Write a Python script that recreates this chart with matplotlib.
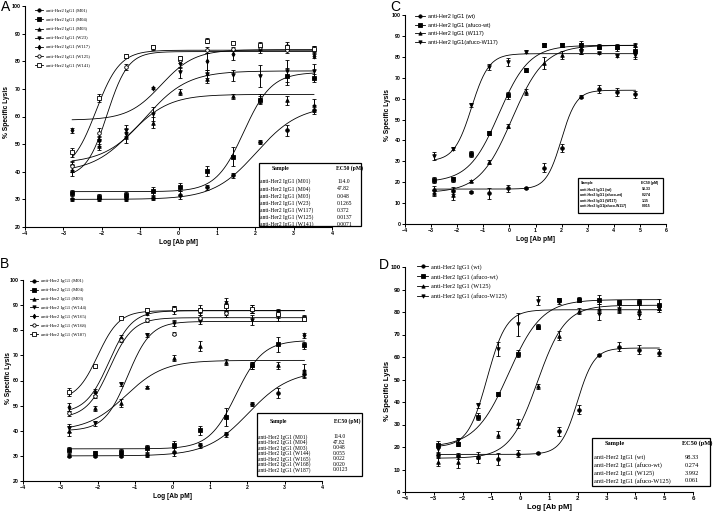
import numpy as np
import matplotlib
matplotlib.use('Agg')
import matplotlib.pyplot as plt
from matplotlib.lines import Line2D
from matplotlib.patches import Rectangle

plt.rcParams['font.family'] = ['Liberation Sans', 'DejaVu Sans']

# ---------------- DATA ----------------
# Panel A
xA = [-2.77, -2.07, -1.37, -0.67, 0.03, 0.73, 1.43, 2.13, 2.83, 3.53]
namesA = ['anti-Her2 IgG1 (M01)', 'anti-Her2 IgG1 (M04)', 'anti-Her2 IgG1 (M03)',
          'anti-Her2 IgG1 (W23)', 'anti-Her2 IgG1 (W117)', 'anti-Her2 IgG1 (W125)',
          'anti-Her2 IgG1 (W141)']
A_M01 = [30.0, 30.0, 30.0, 30.5, 31.5, 34.3, 38.7, 50.7, 55.0, 62.5]
A_M04 = [32.3, 31.0, 31.7, 33.0, 34.5, 40.2, 45.5, 66.0, 74.5, 74.0]
A_M03 = [40.5, 49.5, 52.5, 57.8, 68.8, 73.5, 67.3, 66.5, 65.8, 64.0]
A_W23 = [42.0, 51.0, 55.0, 61.0, 76.0, 75.5, 75.0, 74.5, 76.5, 76.5]
A_W117 = [55.0, 51.5, 54.0, 70.3, 79.5, 80.0, 82.5, 84.5, 85.5, 82.0]
A_W125 = [42.0, 54.0, 78.0, 85.0, 80.5, 84.0, 84.5, 85.0, 84.0, 84.0]
A_W141 = [47.0, 66.7, 82.0, 85.3, 81.0, 87.5, 86.7, 86.0, 85.0, 84.5]
errA_M01 = [0.6, 0.6, 0.6, 0.8, 1.5, 1.0, 1.0, 0.8, 2.0, 1.5]
errA_M04 = [1.2, 0.8, 1.0, 1.5, 1.5, 1.8, 3.5, 1.5, 3.0, 1.5]
errA_M03 = [2.0, 1.5, 2.0, 2.0, 1.0, 1.5, 1.0, 1.5, 1.5, 2.5]
errA_W23 = [2.0, 1.5, 2.0, 2.5, 2.0, 1.5, 2.0, 4.0, 4.0, 2.5]
errA_W117 = [0.8, 1.5, 1.5, 0.3, 2.0, 3.0, 2.0, 1.5, 1.5, 1.0]
errA_W125 = [1.5, 2.0, 1.0, 0.8, 1.0, 1.0, 0.8, 1.0, 1.0, 1.5]
errA_W141 = [1.5, 1.5, 0.8, 0.6, 0.8, 0.8, 0.5, 0.8, 0.8, 1.0]
# fitted curve parameters: bottom, top, logEC50, hill
fitA_M01 = [30.0, 64.0, 2.03, 0.78]
fitA_M04 = [32.8, 76.0, 1.70, 1.2]
fitA_M03 = [40.0, 68.0, -1.25, 0.85]
fitA_W23 = [43.0, 76.5, -0.85, 0.8]
fitA_W117 = [58.7, 84.2, -0.45, 1.0]
fitA_W125 = [38.0, 83.5, -1.86, 1.6]
fitA_W141 = [40.0, 84.0, -2.15, 1.4]
ec50A = ['114.0', '47.82', '0.048', '0.1265', '0.372', '0.0137', '0.0071']

# Panel B
xB = xA
namesB = ['anti-Her2 IgG1 (M01)', 'anti-Her2 IgG1 (M04)', 'anti-Her2 IgG1 (M03)',
          'anti-Her2 IgG1 (W144)', 'anti-Her2 IgG1 (W165)', 'anti-Her2 IgG1 (W168)',
          'anti-Her2 IgG1 (W187)']
B_M01 = A_M01
B_M04 = A_M04
B_M03 = [40.0, 49.0, 51.0, 57.5, 68.8, 73.8, 67.3, 66.0, 66.0, 64.0]
B_W144 = [41.0, 43.0, 58.5, 78.0, 83.0, 83.5, 86.5, 84.0, 85.5, 84.5]
B_W165 = [49.5, 55.5, 77.0, 87.0, 88.0, 88.0, 91.0, 88.5, 87.0, 78.0]
B_W168 = [47.0, 54.0, 76.0, 84.0, 78.7, 85.0, 87.0, 88.0, 86.5, 85.0]
B_W187 = [55.5, 65.6, 85.0, 88.0, 88.5, 88.0, 89.5, 88.5, 86.5, 84.5]
errB_M03 = [2.0, 1.0, 1.5, 0.3, 1.2, 2.0, 1.2, 1.5, 1.5, 2.5]
errB_W144 = [1.5, 1.0, 0.8, 0.8, 1.2, 1.0, 1.2, 2.0, 2.0, 1.0]
errB_W165 = [1.5, 1.2, 1.0, 0.8, 1.5, 2.0, 1.8, 1.5, 1.5, 1.0]
errB_W168 = [1.0, 1.0, 0.8, 0.8, 0.5, 1.0, 1.0, 1.0, 1.0, 1.0]
errB_W187 = [1.5, 0.6, 0.6, 0.8, 1.0, 1.0, 2.0, 1.5, 1.5, 1.0]
fitB_W144 = [40.0, 83.5, -1.2, 1.4]
fitB_W165 = [47.0, 87.8, -1.7, 1.4]
fitB_W168 = [45.0, 85.0, -1.68, 1.4]
fitB_W187 = [52.0, 87.8, -2.0, 1.5]
ec50B = ['114.0', '47.82', '0.048', '0.055', '0.022', '0.020', '0.0123']

# Panel C
xC = [-2.87, -2.17, -1.47, -0.77, -0.07, 0.63, 1.33, 2.03, 2.73, 3.43, 4.13, 4.83]
namesC = ['anti-Her2 IgG1 (wt)', 'anti-Her2 IgG1 (afuco-wt)', 'anti-Her2 IgG1 (W117)',
          'anti-Her2 IgG1(afuco-W117)']
C_wt = [16.5, 16.0, 15.5, 14.7, 17.0, 17.3, 27.0, 36.5, 61.0, 64.5, 63.3, 62.0]
C_afwt = [21.0, 21.3, 33.5, 43.5, 61.5, 73.5, 85.5, 85.5, 85.5, 84.5, 84.5, 83.0]
C_W117 = [15.0, 14.0, 20.5, 29.5, 47.0, 63.0, 77.0, 81.0, 84.0, 85.0, 84.5, 85.5]
C_afW117 = [32.5, 36.0, 57.0, 75.0, 77.5, 82.5, 85.5, 85.5, 82.5, 82.0, 80.5, 81.0]
errC_wt = [1.5, 1.5, 0.5, 2.5, 1.5, 0.5, 2.0, 2.0, 0.5, 2.0, 2.0, 1.5]
errC_afwt = [1.5, 1.0, 1.5, 1.0, 1.5, 1.0, 0.8, 1.0, 2.0, 1.0, 1.5, 3.0]
errC_W117 = [1.5, 2.5, 0.5, 1.0, 1.0, 1.5, 3.0, 2.0, 2.5, 1.0, 1.0, 1.0]
errC_afW117 = [2.0, 0.8, 1.0, 1.5, 2.0, 0.8, 1.0, 1.0, 1.0, 0.5, 0.8, 2.0]
fitC_wt = [16.7, 64.0, 1.99, 1.5]
fitC_afwt = [20.0, 85.5, -0.4, 0.75]
fitC_W117 = [15.0, 85.5, 0.1, 0.7]
fitC_afW117 = [30.0, 81.5, -1.45, 1.3]
ec50C = ['98.33', '0.274', '1.15', '0.015']

# Panel D
xD = xC
namesD = ['anti-Her2 IgG1 (wt)', 'anti-Her2 IgG1 (afuco-wt)', 'anti-Her2 IgG1 (W125)',
          'anti-Her2 IgG1 (afuco-W125)']
D_W125 = [13.5, 13.5, 15.5, 25.5, 30.5, 47.0, 69.5, 80.5, 81.5, 81.5, 81.0, 82.0]
D_afW125 = [19.0, 23.0, 38.5, 63.5, 74.5, 85.0, 84.5, 85.5, 79.0, 81.5, 78.5, 82.0]
errD_W125 = [2.0, 3.0, 2.5, 1.5, 2.0, 1.0, 2.0, 1.5, 2.0, 2.0, 2.0, 1.0]
errD_afW125 = [1.5, 1.0, 1.0, 3.0, 5.0, 2.0, 1.0, 0.5, 2.5, 1.5, 1.5, 1.0]
fitD_W125 = [15.0, 83.0, 0.6, 0.9]
fitD_afW125 = [20.0, 81.0, -1.15, 1.3]
ec50D = ['98.33', '0.274', '3.992', '0.061']

# ---------------- DRAWING ----------------
W, H = 713, 514
fig = plt.figure(figsize=(W / 100, H / 100), dpi=100)


def logistic(x, bottom, top, logec50, hill):
    return bottom + (top - bottom) / (1 + 10 ** (hill * (logec50 - x)))


def px_axes(x0, y0, x1, y1):
    return fig.add_axes([x0 / W, 1 - y1 / H, (x1 - x0) / W, (y1 - y0) / H])


def fx(x):
    return x / W


def fy(y):
    return 1 - y / H


def panel(ax, x, series, xlim, ylim, tick_fs, lab_fs, ylab_xy):
    xs = np.linspace(min(x), max(x), 300)
    handles = []
    for vals, errs, fit, m, filled in series:
        ax.plot(xs, logistic(xs, *fit), color='k', lw=0.6, zorder=2)
        ax.errorbar(x, vals, yerr=errs, fmt=m, linestyle='none', color='k',
                    mfc='k' if filled else 'white', mec='k', mew=0.6, ms=2.6,
                    elinewidth=0.7, capsize=1.3, capthick=0.7, zorder=3)
        handles.append(Line2D([0], [0], color='k', lw=0.6, marker=m,
                              mfc='k' if filled else 'white', mec='k', mew=0.6, ms=2.4))
    ax.set_xlim(*xlim)
    ax.set_ylim(*ylim)
    ax.set_xticks(np.arange(xlim[0], xlim[1] + 1, 1))
    ax.set_yticks(np.arange(ylim[0], ylim[1] + 1, 10))
    for s in ['top', 'right']:
        ax.spines[s].set_visible(False)
    for s in ['left', 'bottom']:
        ax.spines[s].set_linewidth(0.8)
    ax.tick_params(direction='out', length=2, width=0.7, pad=1.2, labelsize=tick_fs)
    for lab in ax.get_xticklabels() + ax.get_yticklabels():
        lab.set_fontweight('bold')
    ax.set_xlabel('Log [Ab pM]', fontsize=lab_fs, fontweight='bold', labelpad=2)
    ax.set_ylabel('% Specific Lysis', fontsize=lab_fs, fontweight='bold')
    ax.yaxis.set_label_coords(*ylab_xy)
    return handles


def table(box, head_y, sample_x, ec_x, row_ys, name_x, val_x, names, vals,
          family, size, head_weight='bold', row_weight='normal', val_ha='left'):
    x0, y0, x1, y1 = box
    fig.patches.append(Rectangle((fx(x0), fy(y1)), fx(x1) - fx(x0), fy(y0) - fy(y1),
                                 transform=fig.transFigure, fill=False, ec='k', lw=0.9))
    fig.text(fx(sample_x), fy(head_y), 'Sample', family=family, fontsize=size,
             fontweight=head_weight, ha='center', va='center')
    fig.text(fx(ec_x), fy(head_y), 'EC50 (pM)', family=family, fontsize=size,
             fontweight=head_weight, ha='center', va='center')
    for yy, n, v in zip(row_ys, names, vals):
        fig.text(fx(name_x), fy(yy), n, family=family, fontsize=size,
                 fontweight=row_weight, ha='left', va='center')
        fig.text(fx(val_x), fy(yy), v, family=family, fontsize=size,
                 fontweight=row_weight, ha=val_ha, va='center')


serif = ['Liberation Serif', 'DejaVu Serif']
sans = ['Liberation Sans', 'DejaVu Sans']

# Panel A
axA = px_axes(25, 6, 332, 227)
hA = panel(axA, xA, [
    (A_M01, errA_M01, fitA_M01, 'o', True),
    (A_M04, errA_M04, fitA_M04, 's', True),
    (A_M03, errA_M03, fitA_M03, '^', True),
    (A_W23, errA_W23, fitA_W23, 'v', True),
    (A_W117, errA_W117, fitA_W117, 'd', True),
    (A_W125, errA_W125, fitA_W125, 'o', False),
    (A_W141, errA_W141, fitA_W141, 's', False),
], (-4, 4), (20, 100), 3.8, 4.8, (-0.048, 0.52))
axA.legend(hA, namesA, loc='upper left', bbox_to_anchor=(0.033, 0.988), frameon=False,
           prop={'family': serif, 'size': 3.3}, handlelength=1.8, handletextpad=0.5,
           labelspacing=1.08, borderaxespad=0, borderpad=0)
table((259, 163, 361, 226), 168.5, 281, 350, [181.5, 188.7, 196, 203.2, 210.3, 217.3, 224],
      260.5, 337, namesA, ec50A, serif, 4.1)

# Panel B
axB = px_axes(23, 280, 322, 481)
hB = panel(axB, xB, [
    (B_M01, errA_M01, fitA_M01, 'o', True),
    (B_M04, errA_M04, fitA_M04, 's', True),
    (B_M03, errB_M03, fitA_M03, '^', True),
    (B_W144, errB_W144, fitB_W144, 'v', True),
    (B_W165, errB_W165, fitB_W165, 'd', True),
    (B_W168, errB_W168, fitB_W168, 'o', False),
    (B_W187, errB_W187, fitB_W187, 's', False),
], (-4, 4), (20, 100), 3.8, 4.8, (-0.036, 0.51))
axB.legend(hB, namesB, loc='upper left', bbox_to_anchor=(0.023, 1.005), frameon=False,
           prop={'family': serif, 'size': 3.4}, handlelength=1.8, handletextpad=0.5,
           labelspacing=0.98, borderaxespad=0, borderpad=0)
table((257, 413, 362, 476), 421, 278, 347, [436.7, 442.3, 447.8, 453.3, 458.7, 464.1, 469.8],
      258.5, 333, namesB, ec50B, serif, 4.0)

# Panel C
axC = px_axes(405, 15, 666, 224)
hC = panel(axC, xC, [
    (C_wt, errC_wt, fitC_wt, 'o', True),
    (C_afwt, errC_afwt, fitC_afwt, 's', True),
    (C_W117, errC_W117, fitC_W117, '^', True),
    (C_afW117, errC_afW117, fitC_afW117, 'v', True),
], (-4, 6), (0, 100), 3.8, 4.8, (-0.052, 0.52))
axC.legend(hC, namesC, loc='upper left', bbox_to_anchor=(0.038, 1.003), frameon=False,
           prop={'family': sans, 'size': 4.0}, handlelength=1.8, handletextpad=0.5,
           labelspacing=0.62, borderaxespad=0, borderpad=0)
table((578, 178, 663, 213), 182.7, 587, 650, [189.5, 195, 200.6, 206.2],
      580, 642, namesC, ec50C, sans, 2.5, row_weight='bold')

# Panel D
axD = px_axes(405, 267, 693, 492)
hD = panel(axD, xD, [
    (C_wt, errC_wt, fitC_wt, 'o', True),
    (C_afwt, errC_afwt, fitC_afwt, 's', True),
    (D_W125, errD_W125, fitD_W125, '^', True),
    (D_afW125, errD_afW125, fitD_afW125, 'v', True),
], (-4, 6), (0, 100), 4.4, 5.6, (-0.05, 0.45))
axD.legend(hD, namesD, loc='upper left', bbox_to_anchor=(0.042, 1.013), frameon=False,
           prop={'family': serif, 'size': 4.5}, handlelength=1.8, handletextpad=0.5,
           labelspacing=0.62, borderaxespad=0, borderpad=0)
table((592, 438, 710, 486), 443.5, 615, 697, [457.3, 465.5, 473.3, 481],
      594, 691.5, namesD, ec50D, serif, 4.6, val_ha='center')

# panel letters
fig.text(fx(1), fy(0), 'A', fontsize=10, ha='left', va='top', family=sans)
fig.text(fx(0), fy(257), 'B', fontsize=10, ha='left', va='top', family=sans)
fig.text(fx(390), fy(0), 'C', fontsize=10, ha='left', va='top', family=sans)
fig.text(fx(379), fy(258), 'D', fontsize=10, ha='left', va='top', family=sans)

fig.savefig('out.png', dpi=100)
